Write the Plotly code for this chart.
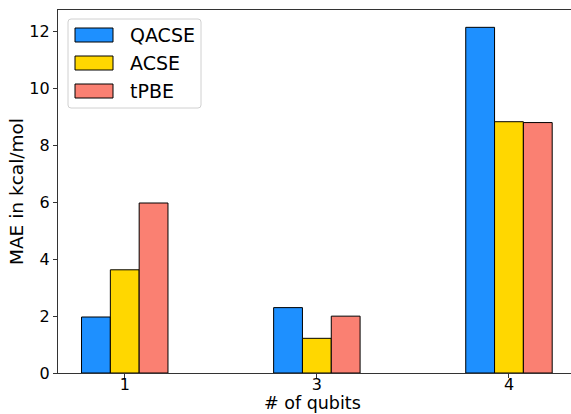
import plotly.graph_objects as go

categories = ["1", "3", "4"]
series_names = ["QACSE", "ACSE", "tPBE"]
qacse = [1.97, 2.30, 12.16]
acse = [3.63, 1.22, 8.84]
tpbe = [5.98, 2.00, 8.81]
colors = ["#1E90FF", "#FFD700", "#FA8072"]
y_ticks = [0, 2, 4, 6, 8, 10, 12]

W, H = 571, 414
L, R, T, B = 58, 0, 10, 41
pw, ph = W - L - R, H - T - B

def px(x):
    return (x - L) / pw

def py(y):
    return (H - B - y) / ph

fig = go.Figure()
for name, vals, col in zip(series_names, [qacse, acse, tpbe], colors):
    fig.add_trace(go.Bar(
        x=list(range(len(categories))), y=vals, name=name,
        marker=dict(color=col, line=dict(color="black", width=1)),
        showlegend=False,
    ))

font = "DejaVu Sans, sans-serif"
fig.update_layout(
    width=W, height=H,
    margin=dict(l=L, r=R, t=T, b=B),
    plot_bgcolor="white", paper_bgcolor="white",
    barmode="group", bargap=0.55, bargroupgap=0,
    font=dict(family=font, size=14, color="black"),
    xaxis=dict(
        range=[-0.3475, (W - 125) / 192.0],
        tickvals=list(range(len(categories))), ticktext=categories,
        showgrid=False, zeroline=False, automargin=False,
        showline=True, linecolor="#333333", linewidth=1.2, mirror=True,
        ticks="outside", ticklen=4, tickcolor="#333333",
        tickfont=dict(size=16), ticklabelstandoff=-7,
    ),
    yaxis=dict(
        range=[0, 12.77], tickvals=y_ticks,
        showgrid=False, zeroline=False, automargin=False,
        showline=True, linecolor="#333333", linewidth=1.2, mirror=False,
        ticks="outside", ticklen=4, tickcolor="#333333",
        tickfont=dict(size=16),
        title=dict(text="MAE in kcal/mol", font=dict(size=18.5), standoff=0),
    ),
)

# x-axis title (matplotlib places it just below the tick labels)
fig.add_annotation(text="# of qubits", xref="paper", yref="paper",
                   x=px(312), y=py(403), xanchor="center", yanchor="middle",
                   showarrow=False, font=dict(size=17.5, family=font, color="black"))

# matplotlib-style legend box
x0, x1, y0, y1 = 68, 201, 19, 108
r = 3
path = (f"M {px(x0+r)} {py(y0)} L {px(x1-r)} {py(y0)} Q {px(x1)} {py(y0)} {px(x1)} {py(y0+r)} "
        f"L {px(x1)} {py(y1-r)} Q {px(x1)} {py(y1)} {px(x1-r)} {py(y1)} "
        f"L {px(x0+r)} {py(y1)} Q {px(x0)} {py(y1)} {px(x0)} {py(y1-r)} "
        f"L {px(x0)} {py(y0+r)} Q {px(x0)} {py(y0)} {px(x0+r)} {py(y0)} Z")
fig.add_shape(type="path", path=path, xref="paper", yref="paper",
              line=dict(color="#d0d0d0", width=1), fillcolor="rgba(255,255,255,0.8)")
row_centers = [35, 63, 91]
for name, col, yc in zip(series_names, colors, row_centers):
    fig.add_shape(type="rect", xref="paper", yref="paper",
                  x0=px(75), x1=px(113), y0=py(yc - 7), y1=py(yc + 7),
                  fillcolor=col, line=dict(color="black", width=1))
    fig.add_annotation(text=name, xref="paper", yref="paper",
                       x=px(128), y=py(yc), xanchor="left", yanchor="middle",
                       showarrow=False, font=dict(size=19, family=font, color="black"))

fig.write_html("out.html")
